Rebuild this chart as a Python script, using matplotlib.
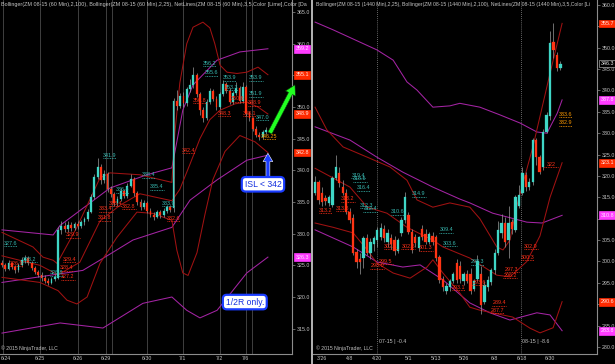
# ZM 08-15 soybean meal, 60 min (left) and daily (right) NinjaTrader-style screenshot
import matplotlib
matplotlib.use("Agg")
import matplotlib.pyplot as plt
import matplotlib.transforms as mtrans
from matplotlib.lines import Line2D

plt.rcParams['font.family'] = ['Liberation Sans', 'DejaVu Sans']

# ---------------- left panel: 60 min bars ----------------
L_OPEN = [325.3, 325.0, 324.5, 325.3, 324.8, 324.2, 325.0, 325.8, 326.2, 325.4,
          324.6, 324.0, 323.5, 323.0, 322.6, 322.2, 322.8, 323.0, 330.6, 331.2,
          330.8, 331.4, 330.9, 331.5, 331.2, 331.8, 332.3, 333.5, 335.8, 339.0,
          340.5, 338.5, 339.5, 337.0, 336.2, 334.8, 335.5, 336.8, 336.0, 337.6,
          338.6, 336.4, 335.0, 334.2, 334.8, 333.6, 333.0, 332.7, 333.4, 332.9,
          333.6, 334.2, 334.0, 351.0, 350.2, 351.8, 350.6, 352.8, 353.5, 355.0,
          352.0, 349.5, 348.2, 350.8, 352.5, 351.3, 350.0, 352.0, 353.6, 352.6,
          350.8, 352.2, 353.0, 351.0, 353.2, 349.0, 348.2, 346.6, 345.6, 345.2,
          346.0]
L_HIGH = [325.8, 325.4, 325.8, 325.6, 325.1, 325.4, 326.3, 326.6, 326.5, 325.7,
          324.9, 324.3, 323.9, 323.4, 323.0, 323.2, 323.6, 331.0, 332.0, 331.8,
          332.0, 331.9, 331.9, 332.0, 332.2, 332.7, 333.9, 336.2, 339.5, 341.9,
          341.0, 340.0, 339.8, 337.5, 336.6, 335.9, 337.2, 337.1, 338.0, 339.4,
          338.9, 336.8, 335.4, 335.3, 335.1, 334.0, 333.4, 333.8, 333.7, 334.0,
          334.6, 334.5, 351.5, 352.7, 352.2, 352.3, 353.2, 354.5, 356.3, 355.4,
          352.4, 350.0, 351.2, 353.0, 352.9, 351.7, 352.4, 354.2, 354.0, 353.0,
          352.6, 354.0, 353.3, 353.9, 353.5, 349.4, 348.5, 347.0, 346.0, 346.3,
          346.8]
L_LOW = [324.7, 324.1, 324.3, 324.5, 323.8, 324.0, 324.8, 325.4, 325.0, 324.3,
         323.6, 323.1, 322.6, 322.2, 321.9, 322.0, 322.5, 322.8, 329.9, 330.2,
         330.3, 330.5, 330.6, 330.8, 330.9, 331.4, 332.0, 333.2, 335.5, 338.6,
         337.8, 338.0, 336.6, 335.8, 334.3, 334.4, 335.2, 335.6, 335.7, 337.3,
         336.0, 334.6, 333.8, 333.9, 333.2, 332.6, 332.2, 332.4, 332.5, 332.6,
         333.3, 333.4, 333.5, 349.5, 349.8, 350.0, 350.2, 352.3, 353.0, 351.6,
         348.8, 347.6, 347.9, 350.4, 350.9, 349.6, 349.7, 351.7, 352.2, 350.4,
         350.5, 351.9, 350.6, 350.7, 348.6, 347.8, 346.2, 345.2, 344.8, 345.0,
         345.7]
L_CLOSE = [325.0, 324.5, 325.3, 324.8, 324.2, 325.0, 325.8, 326.2, 325.4, 324.6,
           324.0, 323.5, 323.0, 322.6, 322.2, 322.8, 323.2, 330.6, 331.2, 330.8,
           331.4, 330.9, 331.5, 331.2, 331.8, 332.3, 333.5, 335.8, 339.0, 340.5,
           338.5, 339.5, 337.0, 336.2, 334.8, 335.5, 336.8, 336.0, 337.6, 338.6,
           336.4, 335.0, 334.2, 334.8, 333.6, 333.0, 332.7, 333.4, 332.9, 333.6,
           334.2, 333.8, 351.0, 350.2, 351.8, 350.6, 352.8, 353.5, 355.0, 352.0,
           349.5, 348.2, 350.8, 352.5, 351.3, 350.0, 352.0, 353.6, 352.6, 350.8,
           352.2, 353.0, 351.0, 353.2, 349.0, 348.2, 346.6, 345.6, 345.2, 346.0,
           346.3]

# Bollinger (2,100) purple and (2,25) dark red, read at bar positions
L_PU_X = [0, 15.5, 17.6, 32.7, 43.9, 51.5, 54.8, 57.9, 65.2, 72.1, 80.6]
L_PU_Y = [330.6, 329.8, 331.3, 337.2, 339.3, 340.4, 349.5, 353.5, 357.4, 358.7, 359.2]
L_PM_X = [0, 24.5, 30.6, 39.7, 51.5, 57, 65.2, 74.2, 80.6]
L_PM_Y = [322.3, 324.2, 326.1, 329.0, 331.0, 335.3, 338.5, 341.6, 342.4]
L_PL_X = [0, 17.6, 30.6, 42.7, 51.5, 56, 60, 65.2, 74.2, 80.6]
L_PL_Y = [314.3, 315.9, 315.1, 319.0, 320.0, 317.9, 316.7, 317.9, 323.8, 326.3]
L_RU_X = [0, 9.4, 12.4, 15.5, 16.7, 22.7, 29.7, 32.7, 41.8, 51.5, 52.4, 53.9, 56,
          57.9, 60.9, 63, 64.5, 66.1, 68.2, 71.2, 74.2, 77.6, 80.6]
L_RU_Y = [330.2, 327.9, 326.3, 325.8, 325.3, 331.0, 338.8, 339.6, 339.3, 338.1, 345.9,
          353.8, 360.0, 362.6, 363.4, 362.5, 360.0, 356.6, 355.5, 355.3, 355.5, 356.3, 355.1]
L_RM_X = [0, 11.5, 17, 23.6, 29.7, 35.8, 41.8, 51.5, 53.9, 57, 60, 63, 66.1, 70.6,
          74.2, 77.6, 80.6]
L_RM_Y = [326.5, 325.0, 323.5, 325.5, 332.0, 334.5, 336.3, 335.2, 337.0, 341.0, 345.0,
          348.0, 349.5, 350.5, 350.8, 350.0, 348.9]
L_RL_X = [0, 11.5, 17, 19.7, 22.7, 25.8, 29.7, 34.8, 40.9, 45.8, 51.5, 53, 54.8, 56.4,
          59.1, 61.5, 63.9, 67.6, 72.1, 76.7, 80.6]
L_RL_Y = [323.1, 322.3, 321.0, 319.5, 318.9, 320.0, 325.3, 329.4, 333.4, 333.2, 332.1,
          327.4, 323.8, 323.4, 327.0, 333.0, 338.5, 343.0, 345.5, 344.5, 342.8]

L_SESSION_LINES = [0.3, 11.5, 23, 31.5, 33.3, 44, 54.8, 66, 73.9, 75.8]
L_DATE_POS = [1.2, 11.5, 23, 31.5, 44, 54.8, 66, 73.9]
L_DATE_TXT = ['6/24', '6/25', '6/26', '6/29', '6/30', '7/1', '7/2', '7/6']
L_YTICKS = [315, 320, 325, 330, 335, 340, 345, 350, 355, 360, 365]

L_NET_TXT = ['327.6', '328.2', '326.9', '329.4', '328.4', '327.2', '326.8', '329.9',
             '331.8', '333.4', '341.9', '338.4', '336.4', '335.4', '333.4', '332.8',
             '333.9', '332.6', '356.2', '355.6', '353.9', '353.3', '353.9', '351.9',
             '350.8', '350.6', '348.9', '348.3', '348.1', '347.0', '342.4', '346.25']
L_NET_X = [2.7, 8.5, 4.5, 20.5, 19.5, 20, 16.5, 21.5, 31, 31.5, 32.7, 44.5, 36.5, 47,
           34.5, 38.5, 50.5, 52, 63, 63.5, 69, 69.5, 77, 77, 60, 71.5, 76.5, 67.5, 75,
           79, 56.5, 81]
L_NET_Y = [328.5, 326.0, 325.3, 326.0, 324.6, 323.2, 323.8, 329.8, 332.5, 333.9, 342.4,
           339.3, 336.9, 337.4, 334.8, 334.3, 334.8, 332.4, 356.9, 355.4, 354.6, 353.1,
           354.6, 352.1, 351.1, 351.3, 350.7, 349.0, 349.0, 348.4, 343.2, 345.4]
L_NET_COL = ['c', 'c', 'r', 'r', 'r', 'r', 'c', 'r', 'r', 'r', 'c', 'c', 'c', 'c', 'r',
             'r', 'c', 'r', 'c', 'c', 'c', 'c', 'c', 'c', 'r', 'r', 'r', 'r', 'r', 'c',
             'r', 'o']

L_TAG_VAL = [359.2, 355.1, 348.9, 342.8, 326.3]
L_TAG_COL = ['m', 'r', 'r', 'r', 'm']

# ---------------- right panel: daily bars ----------------
R_OPEN = [316.0, 318.6, 316.0, 314.8, 313.6, 313.2, 319.5, 320.7, 317.4, 316.0,
          311.6, 310.2, 302.2, 300.5, 300.8, 305.5, 302.0, 304.0, 305.0, 305.7,
          307.5, 304.5, 305.5, 305.0, 302.5, 306.7, 309.7, 310.8, 306.9, 305.7,
          303.2, 307.6, 306.5, 304.5, 306.0, 305.8, 301.0, 296.0, 293.0, 294.0,
          295.5, 299.6, 299.0, 295.5, 297.0, 297.0, 293.5, 296.0, 297.0, 290.5,
          294.0, 295.2, 298.0, 302.0, 306.7, 309.0, 305.0, 309.2, 307.4, 313.0,
          316.0, 320.2, 317.4, 318.6, 328.4, 324.4, 322.1, 330.3, 334.0, 351.3,
          348.3, 345.3]
R_HIGH = [320.0, 319.0, 317.4, 315.5, 315.5, 320.0, 324.9, 322.0, 319.0, 317.0,
          312.5, 311.0, 303.0, 302.0, 306.0, 306.5, 305.5, 306.0, 308.0, 309.0,
          308.5, 307.5, 306.5, 306.0, 305.5, 310.5, 316.3, 311.5, 307.5, 306.5,
          306.0, 308.5, 307.5, 307.0, 307.0, 306.3, 301.5, 296.5, 295.0, 296.0,
          297.5, 300.5, 300.0, 297.5, 298.0, 298.5, 296.0, 301.5, 299.0, 295.5,
          296.5, 298.5, 303.0, 309.5, 311.0, 310.5, 313.0, 310.0, 315.5, 318.0,
          322.0, 321.0, 319.5, 329.0, 329.0, 325.0, 331.0, 335.0, 354.0, 355.7,
          349.0, 346.8]
R_LOW = [315.5, 313.5, 313.0, 313.2, 313.0, 312.8, 319.0, 317.5, 315.5, 311.0,
         309.0, 301.5, 298.5, 297.0, 298.5, 301.5, 300.5, 302.5, 303.5, 305.0,
         304.5, 303.5, 303.0, 301.5, 302.0, 306.0, 309.0, 306.5, 302.0, 303.5,
         302.5, 305.0, 304.0, 304.0, 303.8, 300.0, 295.0, 293.0, 292.5, 293.0,
         295.0, 295.0, 295.0, 294.5, 295.0, 292.5, 293.0, 295.5, 287.7, 290.0,
         293.0, 294.5, 297.0, 301.5, 305.5, 303.5, 300.8, 306.5, 307.0, 312.5,
         315.5, 316.5, 316.8, 318.0, 322.5, 320.5, 321.5, 330.0, 333.0, 347.5,
         344.5, 344.8]
R_CLOSE = [318.6, 314.4, 314.0, 314.2, 315.0, 319.5, 322.1, 318.4, 316.0, 311.6,
           309.7, 302.0, 299.9, 299.8, 305.5, 302.0, 304.5, 305.5, 307.4, 307.8,
           305.5, 306.7, 304.0, 302.5, 305.0, 309.7, 315.1, 307.0, 302.7, 304.3,
           305.7, 305.7, 304.5, 306.5, 304.5, 300.8, 295.7, 294.0, 294.2, 295.5,
           297.0, 295.7, 296.0, 297.0, 295.5, 293.0, 295.5, 300.0, 289.8, 294.5,
           295.7, 298.0, 302.0, 307.4, 309.0, 304.6, 309.0, 307.7, 315.0, 315.5,
           320.7, 317.4, 318.6, 328.4, 324.4, 321.0, 330.3, 334.3, 351.1, 349.5,
           345.3, 346.3]

R_PU_X = [0, 5.2, 17.9, 22.6, 26.6, 29.5, 34.1, 39, 41.9, 47.7, 53.5, 59.3, 64.2, 67.1,
          70.1, 71.5]
R_PU_Y = [356.0, 354.2, 349.5, 347.1, 342.0, 340.1, 336.1, 336.4, 337.0, 336.1, 334.3,
          332.4, 330.3, 330.0, 334.7, 337.8]
R_PM_X = [0, 10.1, 17.9, 25.4, 34.1, 41.9, 44.8, 51.4, 61.3, 65.7, 71.5]
R_PM_Y = [331.5, 328.4, 324.4, 320.9, 317.4, 314.6, 313.7, 311.3, 309.2, 309.0, 310.8]
R_PL_X = [0, 11, 17.9, 25.4, 30.4, 37, 44.8, 50.6, 56.4, 64.2, 68, 71.5]
R_PL_Y = [307.4, 303.4, 299.9, 298.7, 299.2, 295.7, 290.3, 288.0, 286.3, 288.0, 287.5,
          283.8]
R_RU_X = [0, 3.4, 8.1, 15.1, 21.7, 26.6, 29.5, 34.1, 39, 44.8, 47.7, 52.6, 54.4, 56.4,
          58.4, 63.1, 68, 71.5]
R_RU_Y = [336.1, 330.8, 326.8, 324.4, 322.1, 319.0, 314.4, 312.7, 313.7, 312.7, 310.0,
          303.4, 302.7, 305.0, 313.0, 327.0, 344.0, 355.7]
R_RM_X = [0, 10.1, 15.1, 20.8, 26.6, 34.1, 37, 44.8, 52.6, 56.4, 61.3, 65.1, 68, 71.5]
R_RM_Y = [321.8, 317.4, 312.7, 311.3, 308.0, 305.0, 303.4, 300.8, 296.8, 296.4, 300.0,
          306.0, 315.0, 323.1]
R_RL_X = [0, 5.2, 11, 15.1, 17.9, 22.6, 27.5, 32.4, 34.1, 37, 41.9, 44.8, 47.7, 57.2,
          62.2, 65.1, 68.9, 71.5]
R_RL_Y = [309.0, 308.0, 306.7, 302.7, 299.6, 297.3, 296.1, 298.7, 300.4, 297.3, 292.6,
          289.3, 288.6, 287.0, 284.4, 283.3, 284.5, 290.6]

R_DATE_POS = [2, 10, 18, 27, 35, 43, 52, 60, 68]
R_DATE_TXT = ['3/26', '4/8', '4/20', '5/1', '5/13', '5/26', '6/8', '6/18', '6/30']
R_YTICKS = list(range(280, 361, 5))
R_ROLL_POS = [18, 59.5]
R_ROLL_TXT = ['07-15 | -0.4', '08-15 | -8.6']

R_NET_TXT = ['319.4', '318.5', '316.4', '312.3', '312.4', '310.6', '314.9', '309.4',
             '303.6', '298.3', '313.2', '313.8', '313.2', '302.1', '302.6', '301.3',
             '299.5', '298.0', '293.1', '293.6', '289.4', '287.7', '297.3', '296.2',
             '302.9', '300.3', '322', '333.6', '332.9']
R_NET_X = [12.5, 13, 14, 15, 16, 24, 30, 38, 39, 47, 3, 8, 9.5, 22, 27, 32, 20.5, 18,
           41.5, 47.5, 53.3, 52.8, 57, 56.5, 62.5, 61.5, 68.3, 72.5, 72.5]
R_NET_Y = [320.2, 319.3, 317.2, 313.2, 312.3, 311.6, 315.8, 307.4, 304.3, 299.9, 312.0,
           312.5, 314.7, 303.6, 303.6, 303.2, 300.1, 299.0, 294.0, 295.2, 290.3, 288.6,
           298.2, 296.8, 303.6, 301.0, 322.8, 334.5, 332.4]
R_NET_COL = ['c'] * 10 + ['r'] * 17 + ['o', 'o']

R_TAG_VAL = [355.7, 346.3, 337.8, 323.1, 310.8, 290.6, 283.8]
R_TAG_COL = ['r', 'k', 'm', 'r', 'm', 'r', 'm']

UP = '#3fd6c6'
DOWN = '#ff3414'
WICK = '#9a9a9a'
PURPLE = '#a424a4'
DKRED = '#a01212'
GREY = '#c4c4c4'
NET_COLORS = {'c': '#38b8b0', 'r': '#ff3018', 'o': '#ff9a00'}
TAG_STYLE = {'m': ('#ff3cff', '#ffe6ff', '#ff3cff'),
             'r': ('#ff2a00', '#ffe6e0', '#ff2a00'),
             'k': ('black', '#e8e8e8', '#a0a0a0')}


def draw_candles(ax, o, h, l, c, width, min_body):
    x = list(range(len(o)))
    cols = [UP if ci >= oi else DOWN for oi, ci in zip(o, c)]
    ax.vlines(x, l, h, colors=WICK, lw=0.5, zorder=3)
    bottoms = [min(a, b) for a, b in zip(o, c)]
    heights = [max(abs(b - a), min_body) for a, b in zip(o, c)]
    ax.bar(x, heights, width=width, bottom=bottoms, color=cols, edgecolor=cols,
           lw=0.2, zorder=4)


def style_axes(ax, xlim, ylim, yticks, tags, gap):
    ax.set_facecolor('black')
    ax.set_xlim(*xlim)
    ax.set_ylim(*ylim)
    ax.spines['top'].set_visible(False)
    ax.spines['left'].set_visible(False)
    for s in ('right', 'bottom'):
        ax.spines[s].set_color('#8c8c8c')
        ax.spines[s].set_linewidth(0.8)
    ax.yaxis.tick_right()
    ax.set_yticks(yticks)
    # price labels sitting right under a tag are hidden by it in the platform
    ax.set_yticklabels(['' if min(abs(v - t) for t in tags) < gap else '%.1f' % v
                        for v in yticks])
    ax.tick_params(axis='y', colors='#8c8c8c', labelcolor=GREY, labelsize=3.8,
                   length=2, width=0.5, pad=1.5)
    ax.tick_params(axis='x', length=0, labelsize=3.8, labelcolor=GREY, pad=1.2)


def draw_net_labels(ax, txt, xs, ys, cols):
    under = mtrans.offset_copy(ax.transData, fig=ax.figure, y=-3, units='dots')
    for t, x, y, c in zip(txt, xs, ys, cols):
        col = NET_COLORS[c]
        ax.text(x, y, t, color=col, fontsize=3.9, ha='center', va='center', zorder=6,
                clip_on=True)
        ax.plot([x - 2, x + 2], [y, y], transform=under, color=col, lw=0.6,
                ls=(0, (1, 1)), zorder=6)


def draw_tags(ax, vals, cols):
    for v, c in zip(vals, cols):
        fc, tc, ec = TAG_STYLE[c]
        ax.annotate('%.1f' % v, xy=(1, v), xycoords=('axes fraction', 'data'),
                    xytext=(2.6, 0), textcoords='offset points', ha='left', va='center',
                    fontsize=3.9, color=tc, annotation_clip=False, zorder=8,
                    bbox=dict(boxstyle='square,pad=0.25', fc=fc, ec=ec, lw=0.5))


fig = plt.figure(figsize=(6.15, 3.64), dpi=100, facecolor='black')
axL = fig.add_axes([0.0, 0.0275, 292 / 615, 0.9725])
axR = fig.add_axes([313 / 615, 0.0275, 284 / 615, 0.9725])

# ----- left -----
style_axes(axL, (-0.6, 87.9), (311.0, 366.9), L_YTICKS, L_TAG_VAL, 0.5)
for xv in L_SESSION_LINES:
    axL.axvline(xv, color='#4a4a4a', lw=0.6, zorder=1)
axL.set_xticks(L_DATE_POS)
axL.set_xticklabels(L_DATE_TXT)
for xs, ys, col in [(L_PU_X, L_PU_Y, PURPLE), (L_PM_X, L_PM_Y, PURPLE), (L_PL_X, L_PL_Y, PURPLE),
                    (L_RU_X, L_RU_Y, DKRED), (L_RM_X, L_RM_Y, DKRED), (L_RL_X, L_RL_Y, DKRED)]:
    axL.plot(xs, ys, color=col, lw=0.75, zorder=2)
draw_candles(axL, L_OPEN, L_HIGH, L_LOW, L_CLOSE, 0.55, 0.12)
draw_net_labels(axL, L_NET_TXT, L_NET_X, L_NET_Y, L_NET_COL)
draw_tags(axL, L_TAG_VAL, L_TAG_COL)

axL.text(0.003, 0.986, 'Bollinger(ZM 08-15 (60 Min),2,100), Bollinger(ZM 08-15 (60 Min),2,25), '
         'NetLines(ZM 08-15 (60 Min),3,5,Color [Lime],Color [Da',
         transform=axL.transAxes, fontsize=3.9, color=GREY, ha='left', va='center')
axL.text(0.004, 0.008, '\u00a9 2015 NinjaTrader, LLC', transform=axL.transAxes,
         fontsize=3.7, color=GREY, ha='left', va='bottom')

# trade notes
axL.annotate('', xy=(88.8, 353.5), xytext=(81.2, 345.9), annotation_clip=False,
             arrowprops=dict(arrowstyle='simple,head_length=0.7,head_width=0.8,tail_width=0.32',
                             mutation_scale=10, fc='#22ff22', ec='#0b3d0b', lw=0.4,
                             shrinkA=0, shrinkB=0), zorder=9)
axL.annotate('', xy=(80.6, 342.7), xytext=(80.6, 338.4), annotation_clip=False,
             arrowprops=dict(arrowstyle='simple,head_length=0.6,head_width=0.7,tail_width=0.28',
                             mutation_scale=10, fc='#1a3cff', ec='white', lw=0.4,
                             shrinkA=0, shrinkB=0), zorder=9)
box = dict(boxstyle='round,pad=0.32,rounding_size=0.45', fc='white', ec='#1a3cff', lw=1.6)
axL.text(79.1, 337.8, 'ISL < 342', ha='center', va='center', fontsize=6.2,
         color='#1530e0', bbox=box, zorder=10)
axL.text(73.6, 319.2, '1/2R only.', ha='center', va='center', fontsize=6.2,
         color='#1530e0', bbox=box, zorder=10)

# ----- right -----
style_axes(axR, (-0.6, 81.6), (278.36, 361.17), R_YTICKS, R_TAG_VAL, 1.0)
axR.set_xticks(R_DATE_POS)
axR.set_xticklabels(R_DATE_TXT)
for xv, t in zip(R_ROLL_POS, R_ROLL_TXT):
    axR.axvline(xv, color='#8a8a8a', lw=0.6, ls=(0, (1, 1.5)), zorder=1)
    axR.text(xv + 0.5, 281.2, t, fontsize=3.8, color=GREY, ha='left', va='center')
for xs, ys, col in [(R_PU_X, R_PU_Y, PURPLE), (R_PM_X, R_PM_Y, PURPLE), (R_PL_X, R_PL_Y, PURPLE),
                    (R_RU_X, R_RU_Y, DKRED), (R_RM_X, R_RM_Y, DKRED), (R_RL_X, R_RL_Y, DKRED)]:
    axR.plot(xs, ys, color=col, lw=0.75, zorder=2)
draw_candles(axR, R_OPEN, R_HIGH, R_LOW, R_CLOSE, 0.7, 0.2)
draw_net_labels(axR, R_NET_TXT, R_NET_X, R_NET_Y, R_NET_COL)
draw_tags(axR, R_TAG_VAL, R_TAG_COL)

axR.text(0.01, 0.986, 'Bollinger(ZM 08-15 (1440 Min),2,25), Bollinger(ZM 08-15 (1440 Min),2,100), '
         'NetLines(ZM 08-15 (1440 Min),3,5,Color [Li',
         transform=axR.transAxes, fontsize=3.72, color=GREY, ha='left', va='center',
         clip_on=True)
axR.text(0.01, 0.008, '\u00a9 2015 NinjaTrader, LLC', transform=axR.transAxes,
         fontsize=3.7, color=GREY, ha='left', va='bottom')

# panel splitter
fig.add_artist(Line2D([311.5 / 615] * 2, [0, 1], color='#b4b4b4', lw=1.4))

fig.savefig('out.png', dpi=100, facecolor='black')
